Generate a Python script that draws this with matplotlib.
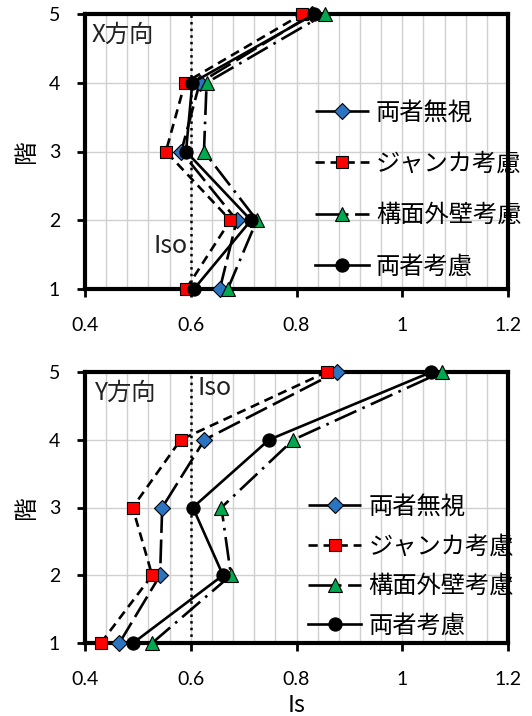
import matplotlib
matplotlib.use('Agg')
import matplotlib.pyplot as plt
from matplotlib.ticker import MultipleLocator, FormatStrFormatter

plt.rcParams['font.family'] = ['Noto Sans CJK JP', 'DejaVu Sans']

# story numbers and Is values per case
floors = [1, 2, 3, 4, 5]
case_names = ['両者無視', 'ジャンカ考慮', '構面外壁考慮', '両者考慮']

x_ignore = [0.655, 0.687, 0.582, 0.617, 0.830]
x_junk = [0.591, 0.675, 0.553, 0.589, 0.811]
x_wall = [0.670, 0.725, 0.625, 0.630, 0.854]
x_both = [0.606, 0.714, 0.591, 0.603, 0.834]

y_ignore = [0.465, 0.542, 0.546, 0.626, 0.876]
y_junk = [0.430, 0.527, 0.490, 0.581, 0.857]
y_wall = [0.527, 0.676, 0.658, 0.794, 1.075]
y_both = [0.491, 0.661, 0.604, 0.748, 1.055]

iso = 0.6
x_ticks = [0.4, 0.6, 0.8, 1.0, 1.2]

styles = [
    dict(ls=(0, (9, 2.5)), marker='D', mfc='#2a74c2', ms=8),
    dict(ls=(0, (3.5, 2.2)), marker='s', mfc='#ff0000', ms=9),
    dict(ls=(0, (9, 2.5, 1, 2.5)), marker='^', mfc='#00a850', ms=10),
    dict(ls='-', marker='o', mfc='black', ms=9.5),
]

TICK_FONT = ['Lato', 'DejaVu Sans']


def draw_panel(ax, series, title, title_xy, iso_xy, iso_ha, leg_anchor, leg_spacing):
    ax.set_xlim(0.4, 1.2)
    ax.set_ylim(1, 5)
    ax.xaxis.set_minor_locator(MultipleLocator(0.04))
    ax.set_xticks(x_ticks)
    ax.set_yticks(floors)
    ax.xaxis.set_major_formatter(FormatStrFormatter('%g'))
    ax.grid(True, which='both', axis='x', color='#d0d0d0', lw=1.0)
    ax.grid(True, which='major', axis='y', color='#d0d0d0', lw=1.0)
    ax.set_axisbelow(True)
    ax.tick_params(which='minor', length=0)
    ax.tick_params(which='major', direction='out', length=6, width=2,
                   labelsize=14)
    ax.tick_params(axis='x', pad=14)
    ax.tick_params(axis='y', pad=12)
    for lab in ax.get_xticklabels() + ax.get_yticklabels():
        lab.set_family(TICK_FONT)
    for sp in ax.spines.values():
        sp.set_linewidth(3)

    ax.axvline(iso, color='black', ls=':', lw=1.8, zorder=2)

    for vals, name, st in zip(series, case_names, styles):
        ax.plot(vals, floors, color='black', lw=1.9, ls=st['ls'],
                marker=st['marker'], ms=st['ms'], mfc=st['mfc'],
                mec='black', mew=0.8, label=name, zorder=3,
                clip_on=False)

    ax.text(title_xy[0], title_xy[1], title, fontsize=17.5, ha='left',
            va='center', color='#222222')
    ax.text(iso_xy[0], iso_xy[1], 'Iso', fontsize=18, ha=iso_ha,
            va='center', color='#222222')
    ax.set_ylabel('階', fontsize=17, labelpad=8)

    ax.legend(loc='center left', bbox_to_anchor=leg_anchor, frameon=False,
              fontsize=17.5, numpoints=1, handlelength=2.2, handletextpad=0.3,
              labelspacing=leg_spacing, borderpad=0, borderaxespad=0)


fig = plt.figure(figsize=(5.32, 7.16), dpi=100)
W, H = 532, 716
left, right = 85 / W, 508 / W

ax_x = fig.add_axes([left, 1 - 289 / H, right - left, 275 / H])
ax_y = fig.add_axes([left, 1 - 643 / H, right - left, 271 / H])

draw_panel(ax_x, [x_ignore, x_junk, x_wall, x_both], 'X方向',
           (0.412, 4.69), (0.594, 1.62), 'right', (0.544, 0.362), 1.04)
draw_panel(ax_y, [y_ignore, y_junk, y_wall, y_both], 'Y方向',
           (0.418, 4.69), (0.613, 4.76), 'left', (0.527, 0.283), 0.56)

ax_y.set_xlabel('Is', fontsize=17)
ax_y.xaxis.set_label_coords(0.5, -0.19)

fig.savefig('out.png', dpi=100)
